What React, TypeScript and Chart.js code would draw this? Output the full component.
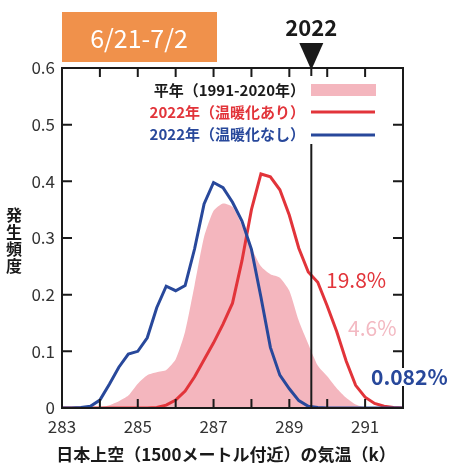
import React, { useEffect, useRef } from 'react';
import { Chart, registerables } from 'chart.js';

Chart.register(...registerables);

const FONT = '"Noto Sans CJK JP", "Noto Sans", sans-serif';

// Temperature bins (K) at 1500 m over Japan
const temps = [
  283, 283.25, 283.5, 283.75, 284, 284.25, 284.5, 284.75, 285, 285.25,
  285.5, 285.75, 286, 286.25, 286.5, 286.75, 287, 287.25, 287.5, 287.75,
  288, 288.25, 288.5, 288.75, 289, 289.25, 289.5, 289.75, 290, 290.25,
  290.5, 290.75, 291, 291.25, 291.5, 291.75, 292,
];

// Climatological frequency, 1991-2020
const normalFreq = [
  0, 0, 0, 0, 0.001, 0.005, 0.012, 0.022, 0.043, 0.058,
  0.063, 0.067, 0.086, 0.135, 0.217, 0.302, 0.348, 0.361, 0.355, 0.322,
  0.283, 0.25, 0.236, 0.23, 0.207, 0.154, 0.113, 0.075, 0.056, 0.035,
  0.018, 0.006, 0.001, 0, 0, 0, 0,
];

// 2022 with warming
const warmFreq = [
  0, 0, 0, 0, 0, 0, 0, 0, 0, 0,
  0.001, 0.005, 0.014, 0.03, 0.055, 0.085, 0.115, 0.148, 0.185, 0.26,
  0.35, 0.413, 0.408, 0.385, 0.34, 0.282, 0.24, 0.222, 0.18, 0.135,
  0.083, 0.04, 0.019, 0.008, 0.003, 0.001, 0,
];

// 2022 without warming
const noWarmFreq = [
  0, 0, 0.001, 0.003, 0.014, 0.042, 0.072, 0.095, 0.1, 0.124,
  0.177, 0.215, 0.207, 0.216, 0.281, 0.36, 0.398, 0.389, 0.363, 0.33,
  0.28, 0.196, 0.107, 0.058, 0.034, 0.013, 0.003, 0.001, 0, 0,
  0, 0, 0, 0, 0, 0, 0,
];

const seriesLabels = ['平年（1991-2020年）', '2022年（温暖化あり）', '2022年（温暖化なし）'];
const exceedLabels = ['4.6%', '19.8%', '0.082%'];
const periodLabel = '6/21-7/2';
const observedYear = '2022';
const observedTemp = 289.58;
const xTitle = '日本上空（1500メートル付近）の気温（k）';
const yTitle = ['発', '生', '頻', '度'];

const PINK = 'rgb(244,182,190)';
const PINK_TEXT = 'rgb(243,185,194)';
const RED = 'rgb(226,52,58)';
const BLUE = 'rgb(40,72,155)';
const ORANGE = 'rgb(240,145,75)';
const INK = '#1a1a1a';

const toPoints = (vals: number[]) => temps.map((t, i) => ({ x: t, y: vals[i] }));

const decor = {
  id: 'decor',
  afterDatasetsDraw(chart: any) {
    const { ctx, chartArea: a, scales } = chart;
    const xs = scales.x;
    const ys = scales.y;
    ctx.save();

    // observed 2022 line
    const ox = xs.getPixelForValue(observedTemp);
    ctx.strokeStyle = INK;
    ctx.lineWidth = 2;
    ctx.beginPath();
    ctx.moveTo(ox, a.top);
    ctx.lineTo(ox, a.bottom);
    ctx.stroke();

    // legend
    ctx.fillStyle = '#fff';
    ctx.fillRect(148, 76, 232, 68);
    const legendY = [90, 112, 134];
    const legendColors = [INK, RED, BLUE];
    ctx.font = `bold 15px ${FONT}`;
    ctx.textAlign = 'right';
    ctx.textBaseline = 'middle';
    seriesLabels.forEach((s, i) => {
      ctx.fillStyle = legendColors[i];
      ctx.fillText(s, 305, legendY[i]);
    });
    ctx.fillStyle = PINK;
    ctx.fillRect(311, 84, 65, 12);
    ctx.lineWidth = 3;
    ctx.strokeStyle = RED;
    ctx.beginPath();
    ctx.moveTo(311, 112);
    ctx.lineTo(375, 112);
    ctx.stroke();
    ctx.strokeStyle = BLUE;
    ctx.beginPath();
    ctx.moveTo(311, 135);
    ctx.lineTo(375, 135);
    ctx.stroke();

    // exceedance percentages
    ctx.textAlign = 'left';
    ctx.font = `21px ${FONT}`;
    ctx.fillStyle = RED;
    ctx.fillText(exceedLabels[1], 326, 280);
    ctx.fillStyle = PINK_TEXT;
    ctx.fillText(exceedLabels[0], 348, 328);
    ctx.font = `bold 21px ${FONT}`;
    const w = ctx.measureText(exceedLabels[2]).width;
    ctx.fillStyle = '#fff';
    ctx.fillRect(369, 366, w + 4, 22);

    // frame with inward ticks
    ctx.strokeStyle = INK;
    ctx.lineWidth = 2;
    ctx.strokeRect(a.left, a.top, a.right - a.left, a.bottom - a.top);
    ctx.beginPath();
    xs.ticks.forEach((t: any) => {
      const px = xs.getPixelForValue(t.value);
      ctx.moveTo(px, a.bottom);
      ctx.lineTo(px, a.bottom - 9);
      ctx.moveTo(px, a.top);
      ctx.lineTo(px, a.top + 9);
    });
    ys.ticks.forEach((t: any) => {
      const py = ys.getPixelForValue(t.value);
      ctx.moveTo(a.left, py);
      ctx.lineTo(a.left + 10, py);
      ctx.moveTo(a.right, py);
      ctx.lineTo(a.right - 10, py);
    });
    ctx.stroke();

    // white gap behind the blue percentage, then the text
    ctx.fillStyle = '#fff';
    ctx.fillRect(400, 368, 6, 18);
    ctx.fillStyle = BLUE;
    ctx.fillText(exceedLabels[2], 371, 377);

    // marker triangle and year
    ctx.fillStyle = INK;
    ctx.beginPath();
    ctx.moveTo(ox - 12, 43);
    ctx.lineTo(ox + 12, 43);
    ctx.lineTo(ox, 70);
    ctx.closePath();
    ctx.fill();
    ctx.font = `bold 22px ${FONT}`;
    ctx.textAlign = 'center';
    ctx.fillText(observedYear, ox, 28);

    // period box
    ctx.fillStyle = ORANGE;
    ctx.fillRect(62, 12, 155, 50);
    ctx.fillStyle = '#fff';
    ctx.font = `25px ${FONT}`;
    ctx.fillText(periodLabel, 139, 38);

    // axis titles
    ctx.fillStyle = INK;
    ctx.font = `bold 17px ${FONT}`;
    ctx.fillText(xTitle, 226, 455);
    ctx.font = `bold 16px ${FONT}`;
    yTitle.forEach((c, i) => ctx.fillText(c, 14, 215 + i * 17));

    ctx.restore();
  },
};

export default function App() {
  const ref = useRef<HTMLCanvasElement>(null);

  useEffect(() => {
    if (!ref.current) return;
    const chart = new Chart(ref.current, {
      type: 'line',
      data: {
        datasets: [
          {
            label: seriesLabels[0],
            data: toPoints(normalFreq),
            fill: 'origin',
            backgroundColor: PINK,
            borderWidth: 0,
            borderColor: 'rgba(0,0,0,0)',
            pointRadius: 0,
            tension: 0.2,
            order: 3,
          },
          {
            label: seriesLabels[1],
            data: toPoints(warmFreq),
            fill: false,
            borderColor: RED,
            borderWidth: 3,
            pointRadius: 0,
            tension: 0,
            order: 2,
          },
          {
            label: seriesLabels[2],
            data: toPoints(noWarmFreq),
            fill: false,
            borderColor: BLUE,
            borderWidth: 3,
            pointRadius: 0,
            tension: 0,
            order: 1,
          },
        ],
      },
      options: {
        responsive: false,
        animation: false,
        layout: { padding: { top: 68, right: 47, left: 0, bottom: 0 } },
        plugins: { legend: { display: false }, tooltip: { enabled: false } },
        scales: {
          x: {
            type: 'linear',
            min: 283,
            max: 292,
            grid: { display: false, drawTicks: false },
            border: { display: false },
            ticks: {
              stepSize: 1,
              autoSkip: false,
              maxRotation: 0,
              padding: 8,
              color: '#333',
              font: { family: FONT, size: 17 },
              callback: (v: any) => (Number(v) % 2 === 1 ? String(v) : ''),
            },
            afterFit: (s: any) => {
              s.height = 66;
            },
          },
          y: {
            min: 0,
            max: 0.6,
            grid: { display: false, drawTicks: false },
            border: { display: false },
            ticks: {
              stepSize: 0.1,
              padding: 7,
              color: '#333',
              font: { family: FONT, size: 17 },
              callback: (v: any) => (Number(v) === 0 ? '0' : Number(v).toFixed(1)),
            },
            afterFit: (s: any) => {
              s.width = 62;
            },
          },
        },
      },
      plugins: [decor],
    });
    return () => chart.destroy();
  }, []);

  return (
    <div style={{ position: 'absolute', left: 0, top: 0, width: 450, height: 474, background: '#fff' }}>
      <canvas ref={ref} width={450} height={474} style={{ display: 'block' }} />
    </div>
  );
}
